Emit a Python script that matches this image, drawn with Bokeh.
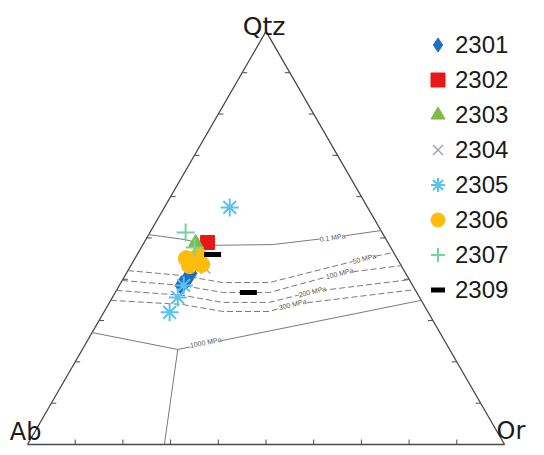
import math
from bokeh.plotting import figure
from bokeh.models import Range1d, Legend, LegendItem
from bokeh.core.properties import value
from bokeh.embed import file_html
from bokeh.resources import INLINE

# ---------------- sample compositions (%, Qtz / Ab / Or) ----------------
s2301_qtz = [41.4, 39.9, 38.5]
s2301_ab = [45.1, 46.7, 48.5]
s2301_or = [13.5, 13.4, 13.0]

s2302_qtz = [48.9]
s2302_ab = [37.8]
s2302_or = [13.3]

s2303_qtz = [48.9, 47.0]
s2303_ab = [40.3, 40.8]
s2303_or = [10.8, 12.2]

s2304_qtz = [42.6]
s2304_ab = [41.4]
s2304_or = [16.0]

s2305_qtz = [57.4, 32.0, 35.6, 38.5]
s2305_ab = [28.9, 54.2, 50.7, 48.0]
s2305_or = [13.7, 13.8, 13.7, 13.5]

s2306_qtz = [45.0, 45.8, 43.6, 43.3]
s2306_ab = [44.2, 41.2, 41.7, 44.4]
s2306_or = [10.8, 13.0, 14.7, 12.3]

s2307_qtz = [51.3, 47.7]
s2307_ab = [41.2, 41.1]
s2307_or = [7.5, 11.2]

s2309_qtz = [46.0, 36.8]
s2309_ab = [38.2, 35.3]
s2309_or = [15.8, 27.9]

# ---------------- cotectic / minimum curves (%, Qtz and Or) ----------------
c01_qtz = [50.8, 49.6, 48.2, 48.4, 50.1, 51.8]
c01_or = [0.0, 8.3, 13.7, 27.2, 38.9, 48.2]
c50_qtz = [42.1, 40.9, 39.2, 39.2, 45.0, 46.5]
c50_or = [0.0, 12.0, 21.3, 31.1, 48.1, 53.5]
c100_qtz = [39.7, 38.5, 36.8, 36.8, 41.4, 43.3]
c100_or = [0.0, 13.2, 22.5, 32.3, 44.7, 56.7]
c200_qtz = [37.3, 36.1, 34.4, 34.4, 37.0, 39.9]
c200_or = [0.0, 14.5, 23.7, 33.5, 41.2, 60.1]
c300_qtz = [34.9, 33.9, 32.2, 32.2, 33.9, 37.5]
c300_or = [0.0, 15.5, 24.8, 34.6, 38.6, 62.5]
c1000_qtz = [27.1, 23.0, 34.9]
c1000_or = [0.0, 20.0, 65.1]
c1000b_qtz = [23.0, 0.0]
c1000b_or = [20.0, 28.7]

curve_labels = ["0.1 MPa", "50 MPa", "100 MPa", "200 MPa", "300 MPa", "1000 MPa"]
label_qtz = [50.1, 45.0, 41.4, 37.0, 33.9, 24.7]
label_or = [38.9, 48.1, 44.7, 41.2, 38.6, 25.0]
label_angle_deg = [8, 14, 14, 14, 14, 11]

tick_values = [10, 20, 30, 40, 50, 60, 70, 80, 90]
vertex_names = ["Qtz", "Ab", "Or"]

# ---------------- ternary transform ----------------
R3 = math.sqrt(3) / 2.0


def tx(qtz, orr):
    return [(o + q / 2.0) / 100.0 for q, o in zip(qtz, orr)]


def ty(qtz):
    return [q / 100.0 * R3 for q in qtz]


# ---------------- figure ----------------
W, H = 528, 446
S = 477.0          # pixel length of one triangle side
X0, Y0 = 27.0, 2.0  # pixel position of the Ab corner inside the frame

p = figure(width=W, height=H,
           x_range=Range1d(-X0 / S, (W - X0) / S),
           y_range=Range1d(-Y0 / S, (H - Y0) / S),
           output_backend="svg", toolbar_location=None, min_border=0)
p.axis.visible = False
p.grid.visible = False
p.outline_line_color = None
p.background_fill_color = "white"
p.border_fill_color = "white"

EDGE = "#4a4a4a"
CURVE = "#7a7a7a"

# triangle
p.line([0, 1, 0.5, 0], [0, 0, R3, 0], line_color=EDGE, line_width=1.3)

# ticks
L = 5.0 / S
bx = [t / 100.0 for t in tick_values]
p.segment(x0=bx, y0=[0] * 9, x1=bx, y1=[L] * 9, line_color=EDGE, line_width=1)
lx = [t / 200.0 for t in tick_values]
ly = [t / 100.0 * R3 for t in tick_values]
p.segment(x0=lx, y0=ly, x1=[v + L for v in lx], y1=ly, line_color=EDGE, line_width=1)
rx = [1 - t / 200.0 for t in tick_values]
p.segment(x0=rx, y0=ly, x1=[v - L for v in rx], y1=ly, line_color=EDGE, line_width=1)

# curves
p.line(tx(c01_qtz, c01_or), ty(c01_qtz), line_color=CURVE, line_width=1)
for cq, co in [(c50_qtz, c50_or), (c100_qtz, c100_or), (c200_qtz, c200_or), (c300_qtz, c300_or)]:
    p.line(tx(cq, co), ty(cq), line_color=CURVE, line_width=1, line_dash="6 3")
p.line(tx(c1000_qtz, c1000_or), ty(c1000_qtz), line_color=CURVE, line_width=1)
p.line(tx(c1000b_qtz, c1000b_or), ty(c1000b_qtz), line_color=CURVE, line_width=1)

p.text(x=tx(label_qtz, label_or), y=ty(label_qtz), text=curve_labels,
       angle=[math.radians(a) for a in label_angle_deg],
       text_font=value("Liberation Sans"), text_font_size="7px", text_color="#555555",
       text_align="center", text_baseline="middle",
       background_fill_color="white")

# vertex labels
p.text(x=[0.5], y=[R3], text=[vertex_names[0]], text_font=value("DejaVu Sans"),
       text_font_size="25px", text_color="#1a1a1a", text_align="center",
       text_baseline="alphabetic", x_offset=-2, y_offset=-5)
p.text(x=[0.0], y=[0.0], text=[vertex_names[1]], text_font=value("DejaVu Sans"),
       text_font_size="24px", text_color="#1a1a1a", text_align="right",
       text_baseline="alphabetic", x_offset=14, y_offset=-13)
p.text(x=[1.0], y=[0.0], text=[vertex_names[2]], text_font=value("DejaVu Sans"),
       text_font_size="24px", text_color="#1a1a1a", text_align="left",
       text_baseline="alphabetic", x_offset=-8, y_offset=-14)

# samples
r2301 = p.scatter(tx(s2301_qtz, s2301_or), ty(s2301_qtz), marker="diamond", size=19,
                  fill_color="#1c6fc5", line_color="#1c6fc5")
r2302 = p.scatter(tx(s2302_qtz, s2302_or), ty(s2302_qtz), marker="square", size=14,
                  fill_color="#e81818", line_color="#e81818")
r2303 = p.scatter(tx(s2303_qtz, s2303_or), ty(s2303_qtz), marker="triangle", size=14,
                  fill_color="#7dbb45", line_color="#7dbb45")
r2304 = p.scatter(tx(s2304_qtz, s2304_or), ty(s2304_qtz), marker="x", size=14,
                  line_color="#a0a0cc", line_width=1.5)
r2305 = p.scatter(tx(s2305_qtz, s2305_or), ty(s2305_qtz), marker="asterisk", size=18,
                  line_color="#5bc2ee", line_width=2)
r2306 = p.scatter(tx(s2306_qtz, s2306_or), ty(s2306_qtz), marker="circle", size=16,
                  fill_color="#ffbc0a", line_color="#ffbc0a")
r2307 = p.scatter(tx(s2307_qtz, s2307_or), ty(s2307_qtz), marker="cross", size=18,
                  line_color="#72d2a0", line_width=2)
r2309 = p.scatter(tx(s2309_qtz, s2309_or), ty(s2309_qtz), marker="dash", size=17,
                  line_color="black", line_width=5)

renderers = [r2301, r2302, r2303, r2304, r2305, r2306, r2307, r2309]
series_names = ["2301", "2302", "2303", "2304", "2305", "2306", "2307", "2309"]
items = [LegendItem(label=n, renderers=[r]) for n, r in zip(series_names, renderers)]

legend = Legend(items=items, location=(420, 139), orientation="vertical",
                glyph_width=35, glyph_height=35, spacing=0, label_standoff=-5,
                label_height=20, padding=0, margin=0,
                border_line_alpha=0, background_fill_alpha=0,
                label_text_font="Liberation Sans", label_text_font_size="24px",
                label_text_color="#1a1a1a")
p.add_layout(legend)

open("out.html", "w").write(file_html(p, INLINE))
